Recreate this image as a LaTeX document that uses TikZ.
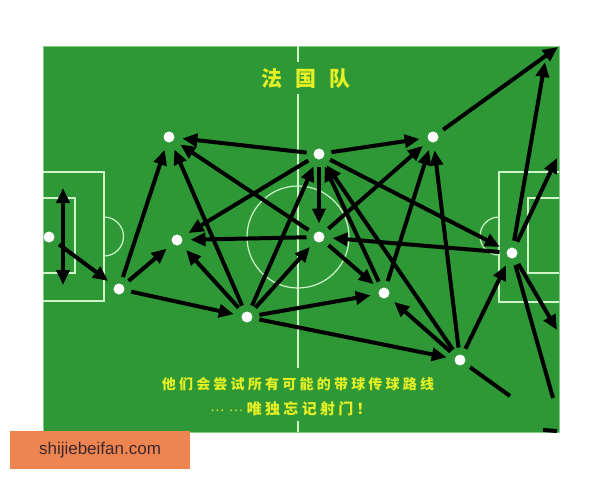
\documentclass[tikz,border=0pt]{standalone}
\usepackage{fontspec}
\setmainfont{Liberation Sans}
\newfontfamily\cjktitle[LetterSpace=60]{Noto Sans CJK SC}
\newfontfamily\cjkone[LetterSpace=23]{Noto Sans CJK SC}
\newfontfamily\cjktwo[LetterSpace=22]{Noto Sans CJK SC}
\newfontfamily\cjkdots{Noto Sans CJK SC}
\usetikzlibrary{arrows.meta}
\definecolor{fieldg}{RGB}{46,152,54}
\definecolor{borderg}{RGB}{130,205,130}
\definecolor{lineg}{RGB}{205,245,200}
\definecolor{txtyellow}{RGB}{228,240,36}
\definecolor{orangec}{RGB}{238,132,80}
\definecolor{wmtext}{RGB}{60,40,45}
\begin{document}
\begin{tikzpicture}[x=1pt,y=-1pt,
  player/.style={circle,fill=white,minimum size=11pt,inner sep=0pt,outer sep=0pt},
  pass/.style={line width=4pt,-{Triangle[length=15pt,width=13pt]},shorten >=8pt,shorten <=7pt},
  runline/.style={line width=4pt,shorten <=7pt},
  fieldline/.style={draw=lineg,line width=1.2pt}]
\useasboundingbox (0,0) rectangle (600,480);
\fill[white] (0,0) rectangle (600,480);
\draw[fill=fieldg,draw=borderg,line width=1pt] (43,46) rectangle (559,432);
% pitch markings
\draw[fieldline] (298,46) -- (298,62);
\draw[fieldline] (298,94) -- (298,368);
\draw[fieldline] (298,421) -- (298,432);
\draw[fieldline] (298,237) circle (51pt);
\draw[fieldline] (43,172) -- (104,172) -- (104,301) -- (43,301);
\draw[fieldline] (43,198) -- (75,198) -- (75,273) -- (43,273);
\draw[fieldline] (104,217) arc[start angle=90,end angle=-90,radius=19.5pt];
\draw[fieldline] (559,172) -- (499,172) -- (499,302) -- (559,302);
\draw[fieldline] (559,198) -- (528,198) -- (528,273) -- (559,273);
\draw[fieldline] (499,217) arc[start angle=90,end angle=270,radius=19pt];
% players
\node[player] (A) at (49,237) {};
\node[player] (B) at (119,289) {};
\node[player] (C) at (169,137) {};
\node[player] (D) at (177,240) {};
\node[player] (E) at (247,317) {};
\node[player] (F) at (319,154) {};
\node[player] (G) at (319,237) {};
\node[player] (H) at (384,293) {};
\node[player] (I) at (433,137) {};
\node[player] (J) at (512,253) {};
\node[player] (K) at (460,360) {};
% free ends
\coordinate (ku) at (63,188);
\coordinate (kd) at (63,285);
\coordinate (tr1) at (558,47);
\coordinate (tr2) at (545,62);
\coordinate (r1) at (557,158);
\coordinate (r2) at (557,330);
\coordinate (r3) at (553,398);
\coordinate (k1) at (510,396);
\coordinate (m1) at (543,430);
\coordinate (m2) at (557,431);
% passes
\draw[line width=4pt,{Triangle[length=15pt,width=13pt]}-{Triangle[length=15pt,width=13pt]}] (ku) -- (kd);
\draw[pass] (A) -- (B);
\draw[pass] (B) -- (C);
\draw[pass] (B) -- (D);
\draw[pass] (B) -- (E);
\draw[pass] (E) -- (C);
\draw[pass] (E) -- (D);
\draw[pass] (E) -- (F);
\draw[pass] (E) -- (G);
\draw[pass] (E) -- (H);
\draw[pass] (E) -- (K);
\draw[pass] (F) -- (C);
\draw[pass] (F) -- (D);
\draw[pass] (F) -- (G);
\draw[pass] (F) -- (I);
\draw[pass] (F) -- (J);
\draw[pass] (G) -- (C);
\draw[pass] (G) -- (D);
\draw[pass] (G) -- (H);
\draw[pass] (G) -- (I);
\draw[pass] (J) -- (G);
\draw[pass] (H) -- (F);
\draw[pass] (H) -- (I);
\draw[pass] (K) -- (F);
\draw[pass] (K) -- (H);
\draw[pass] (K) -- (I);
\draw[pass] (K) -- (J);
\draw[pass,shorten >=0pt] (I) -- (tr1);
\draw[pass,shorten >=0pt] (J) -- (tr2);
\draw[pass,shorten >=0pt] (J) -- (r1);
\draw[pass,shorten >=0pt] (J) -- (r2);
\draw[runline] (J) -- (r3);
\draw[runline] (K) -- (k1);
\draw[line width=4pt] (m1) -- (m2);
% texts
\node[text=txtyellow,font=\cjktitle\bfseries\fontsize{21}{21}\selectfont,inner sep=0pt] (title) at (306,79) {法国队};
\node[text=txtyellow,font=\cjkone\bfseries\fontsize{14}{14}\selectfont,inner sep=0pt] (line1) at (298,384) {他们会尝试所有可能的带球传球路线};
\node[text=txtyellow,font=\cjktwo\bfseries\fontsize{15}{15}\selectfont,inner sep=0pt] (line2) at (291,409) {\raisebox{0.25em}{\cjkdots\fontsize{13}{13}\selectfont\mdseries …\hspace{5pt}…}\hspace{4pt}唯独忘记射门！};
% watermark
\fill[orangec] (10,431) rectangle (190,469);
\node[text=wmtext,font=\fontsize{17}{17}\selectfont,inner sep=0pt] (wm) at (100,450) {shijiebeifan.com};
\end{tikzpicture}
\end{document}
